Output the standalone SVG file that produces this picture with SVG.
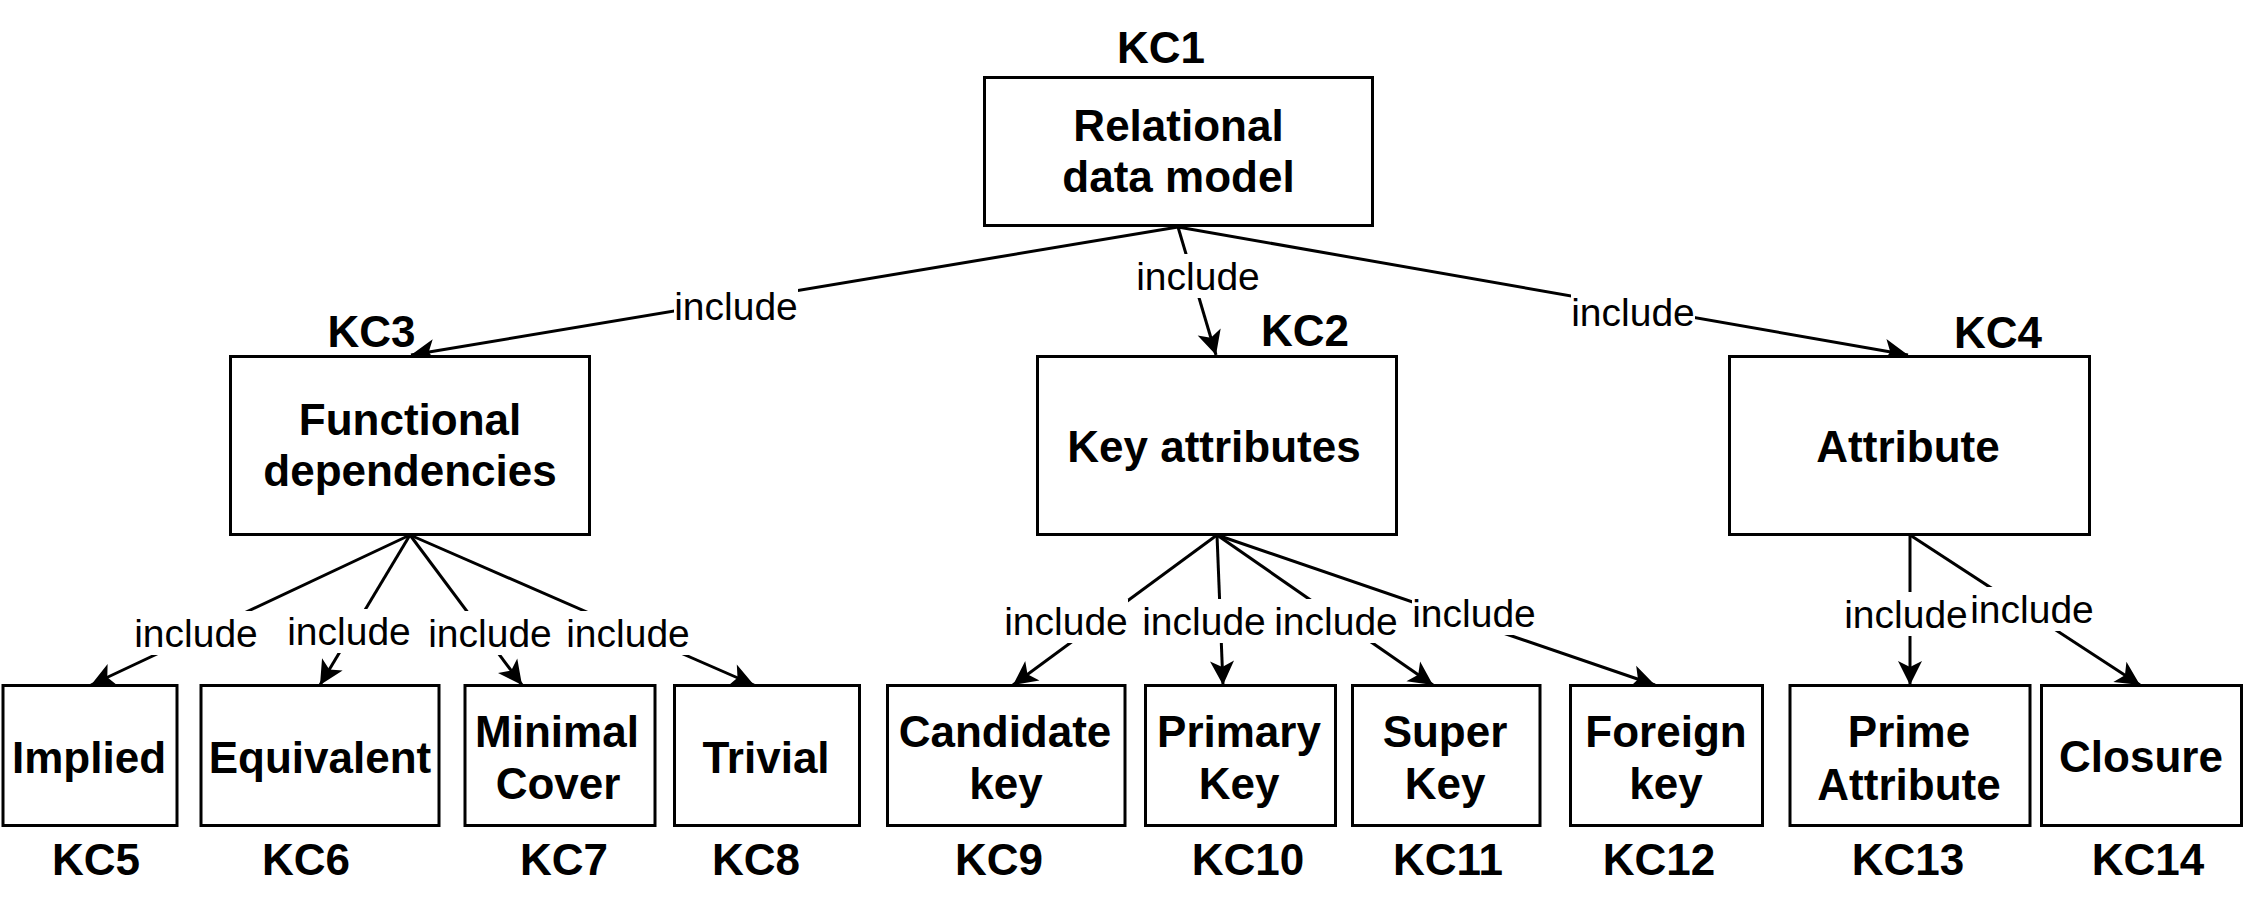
<svg xmlns="http://www.w3.org/2000/svg" width="2244" height="903" viewBox="0 0 2244 903">
<style>
.box{fill:#fff;stroke:#000;stroke-width:3}
.t{font-family:"Liberation Sans",Arial,Helvetica,sans-serif;font-weight:bold;font-size:44px;text-anchor:middle;fill:#000}
.kc{font-family:"Liberation Sans",Arial,Helvetica,sans-serif;font-weight:bold;font-size:44px;text-anchor:middle;fill:#000}
.lbl{font-family:"Liberation Sans",Arial,Helvetica,sans-serif;font-size:39px;text-anchor:middle;fill:#000}
.lbg{fill:#fff}
.edge{stroke:#000;stroke-width:3;fill:none;marker-end:url(#arr)}
</style>
<defs>
<marker id="arr" markerUnits="userSpaceOnUse" viewBox="-25 -13 26 26" markerWidth="26" markerHeight="26" refX="0" refY="0" orient="auto">
<path d="M0,0 L-24,-12 L-18,0 L-24,12 Z" fill="#000"/>
</marker>
</defs>
<rect width="2244" height="903" fill="#fff"/>
<g id="connectors">
<line class="edge" x1="1178" y1="227" x2="411" y2="355"/>
<line class="edge" x1="1178" y1="227" x2="1216" y2="355"/>
<line class="edge" x1="1178" y1="227" x2="1908" y2="355"/>
<line class="edge" x1="410" y1="535" x2="91" y2="685"/>
<line class="edge" x1="410" y1="535" x2="320" y2="685"/>
<line class="edge" x1="410" y1="535" x2="522" y2="685"/>
<line class="edge" x1="410" y1="535" x2="754" y2="685"/>
<line class="edge" x1="1217" y1="535" x2="1013" y2="685"/>
<line class="edge" x1="1217" y1="535" x2="1223" y2="685"/>
<line class="edge" x1="1217" y1="535" x2="1433" y2="685"/>
<line class="edge" x1="1217" y1="535" x2="1655" y2="685"/>
<line class="edge" x1="1910" y1="535" x2="1910" y2="685"/>
<line class="edge" x1="1910" y1="535" x2="2140" y2="685"/>
<g id="edge-labels">
<rect class="lbg" x="674" y="284" width="124" height="44"/><text class="lbl" x="736" y="320">include</text>
<rect class="lbg" x="1136" y="254" width="124" height="44"/><text class="lbl" x="1198" y="290">include</text>
<rect class="lbg" x="1571" y="290" width="124" height="44"/><text class="lbl" x="1633" y="326">include</text>
<rect class="lbg" x="134" y="611" width="124" height="44"/><text class="lbl" x="196" y="647">include</text>
<rect class="lbg" x="287" y="609" width="124" height="44"/><text class="lbl" x="349" y="645">include</text>
<rect class="lbg" x="428" y="611" width="124" height="44"/><text class="lbl" x="490" y="647">include</text>
<rect class="lbg" x="566" y="611" width="124" height="44"/><text class="lbl" x="628" y="647">include</text>
<rect class="lbg" x="1004" y="599" width="124" height="44"/><text class="lbl" x="1066" y="635">include</text>
<rect class="lbg" x="1142" y="599" width="124" height="44"/><text class="lbl" x="1204" y="635">include</text>
<rect class="lbg" x="1274" y="599" width="124" height="44"/><text class="lbl" x="1336" y="635">include</text>
<rect class="lbg" x="1412" y="591" width="124" height="44"/><text class="lbl" x="1474" y="627">include</text>
<rect class="lbg" x="1844" y="592" width="124" height="44"/><text class="lbl" x="1906" y="628">include</text>
<rect class="lbg" x="1970" y="587" width="124" height="44"/><text class="lbl" x="2032" y="623">include</text>
</g>
</g>
<g id="kc1">
<rect class="box" x="984.5" y="77.5" width="388" height="148"/>
<text class="t" x="1178.5" y="141">Relational</text>
<text class="t" x="1178.5" y="192">data model</text>
<text class="kc" x="1161" y="63">KC1</text>
</g>
<g id="kc3">
<rect class="box" x="230.5" y="356.5" width="359" height="178"/>
<text class="t" x="410" y="435">Functional</text>
<text class="t" x="410" y="486">dependencies</text>
<text class="kc" x="371.5" y="347">KC3</text>
</g>
<g id="kc2">
<rect class="box" x="1037.5" y="356.5" width="359" height="178"/>
<text class="t" x="1214" y="462">Key attributes</text>
<text class="kc" x="1305" y="346">KC2</text>
</g>
<g id="kc4">
<rect class="box" x="1729.5" y="356.5" width="360" height="178"/>
<text class="t" x="1908" y="462">Attribute</text>
<text class="kc" x="1998" y="348">KC4</text>
</g>
<g id="kc5">
<rect class="box" x="3" y="685.5" width="174" height="140"/>
<text class="t" x="89" y="773">Implied</text>
<text class="kc" x="96" y="875">KC5</text>
</g>
<g id="kc6">
<rect class="box" x="201" y="685.5" width="238" height="140"/>
<text class="t" x="320" y="773">Equivalent</text>
<text class="kc" x="306" y="875">KC6</text>
</g>
<g id="kc7">
<rect class="box" x="465" y="685.5" width="190" height="140"/>
<text class="t" x="557" y="747">Minimal</text>
<text class="t" x="558" y="799">Cover</text>
<text class="kc" x="564" y="875">KC7</text>
</g>
<g id="kc8">
<rect class="box" x="674.5" y="685.5" width="185" height="140"/>
<text class="t" x="766" y="773">Trivial</text>
<text class="kc" x="756" y="875">KC8</text>
</g>
<g id="kc9">
<rect class="box" x="887.5" y="685.5" width="237.5" height="140"/>
<text class="t" x="1005" y="747">Candidate</text>
<text class="t" x="1006" y="799">key</text>
<text class="kc" x="999" y="875">KC9</text>
</g>
<g id="kc10">
<rect class="box" x="1145.5" y="685.5" width="190" height="140"/>
<text class="t" x="1239" y="747">Primary</text>
<text class="t" x="1239" y="799">Key</text>
<text class="kc" x="1248" y="875">KC10</text>
</g>
<g id="kc11">
<rect class="box" x="1352.5" y="685.5" width="187.5" height="140"/>
<text class="t" x="1445" y="747">Super</text>
<text class="t" x="1445" y="799">Key</text>
<text class="kc" x="1448" y="875">KC11</text>
</g>
<g id="kc12">
<rect class="box" x="1570.5" y="685.5" width="192" height="140"/>
<text class="t" x="1666" y="747">Foreign</text>
<text class="t" x="1666" y="799">key</text>
<text class="kc" x="1659" y="875">KC12</text>
</g>
<g id="kc13">
<rect class="box" x="1790" y="685.5" width="240" height="140"/>
<text class="t" x="1909" y="747">Prime</text>
<text class="t" x="1909" y="800">Attribute</text>
<text class="kc" x="1908" y="875">KC13</text>
</g>
<g id="kc14">
<rect class="box" x="2041.5" y="685.5" width="200" height="140"/>
<text class="t" x="2141" y="772">Closure</text>
<text class="kc" x="2148" y="875">KC14</text>
</g>
</svg>
